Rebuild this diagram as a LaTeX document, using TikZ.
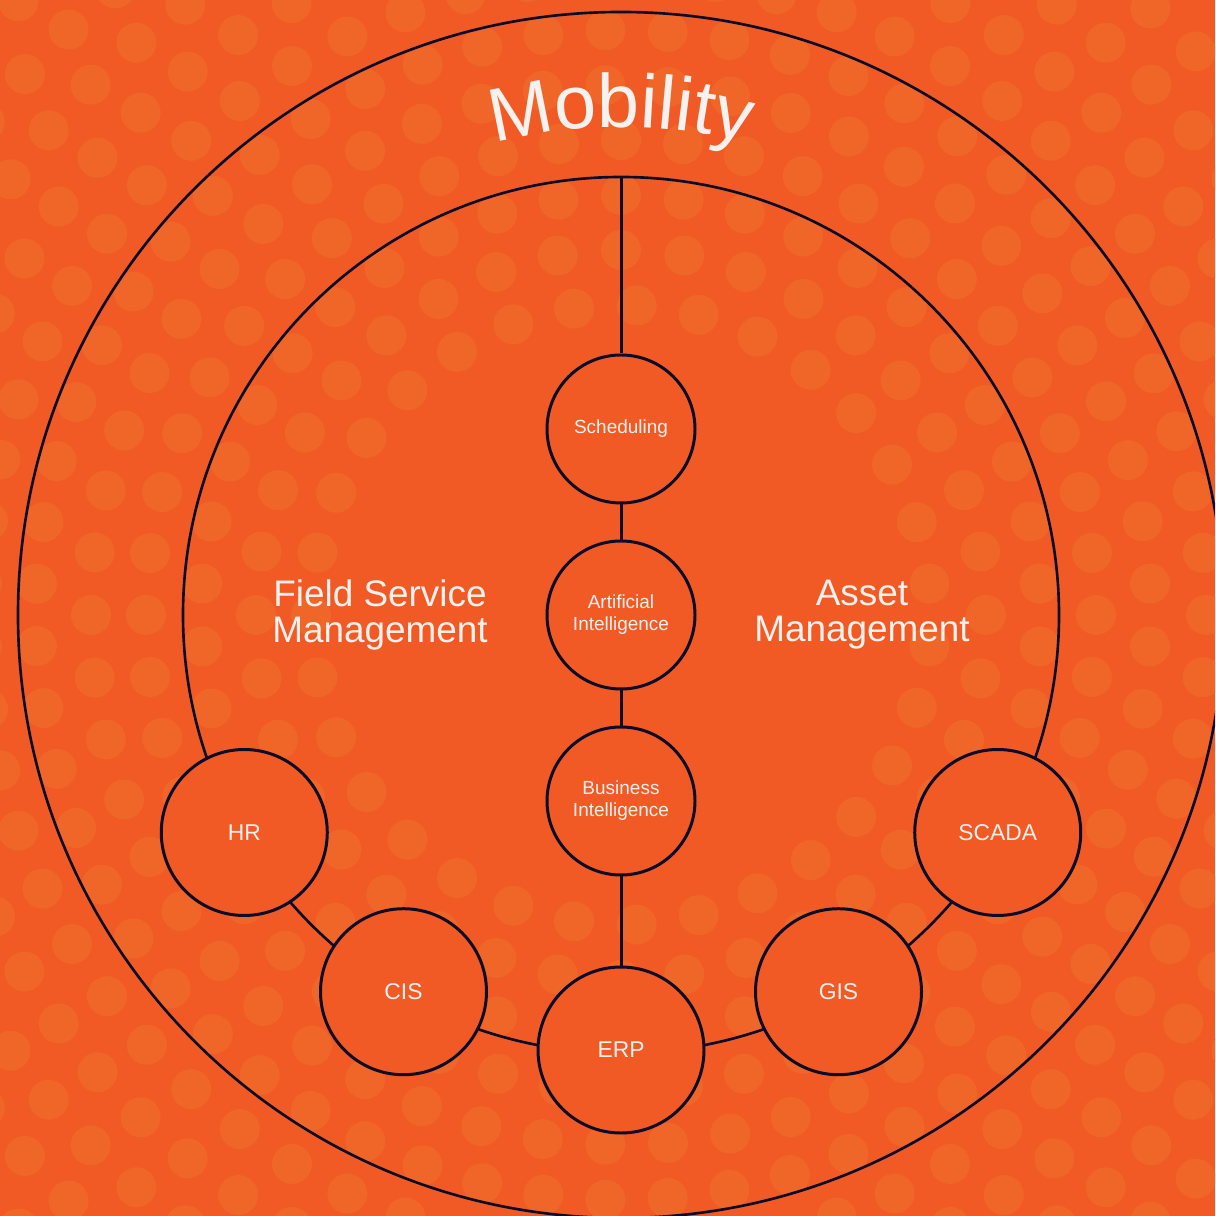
\documentclass[tikz,border=0pt]{standalone}
\usepackage{fontspec}
\setmainfont{Liberation Sans}
\usetikzlibrary{decorations.text}
\definecolor{bgorange}{HTML}{F15A24}
\definecolor{dotorange}{HTML}{F06528}
\definecolor{ink}{HTML}{0B0B2A}
\definecolor{paper}{HTML}{F4F1EE}

\begin{document}
\begin{tikzpicture}[
   ring/.style={ink,line width=0.75pt},
   bub/.style={circle,draw=ink,line width=0.85pt,fill=bgorange,text=paper,
     minimum size=1.66cm,inner sep=0pt,font=\fontsize{6.5}{7.5}\selectfont},
   smallbub/.style={bub,minimum size=1.48cm,align=center,
     font=\fontsize{5.4}{6.3}\selectfont},
   area/.style={text=paper,align=center,font=\fontsize{10.5}{10.3}\selectfont}]
   \useasboundingbox (-6.21,-6.01) rectangle (5.94,6.15);
   \clip (-6.21,-6.01) rectangle (5.94,6.15);
   \fill[bgorange] (-6.21,-6.01) rectangle (5.94,6.15);
   % dotted backdrop
   \foreach \r [count=\k] in {3.1,3.65,...,8.6} {
    \pgfmathtruncatemacro\n{2*pi*\r/0.62}
    \pgfmathsetmacro\da{360/\n}
    \foreach \i in {1,...,\n}
     \fill[dotorange] ({\da*(\i+0.5*mod(\k,2))}:\r) circle(0.2);
   }
   \draw[ring] (0,0) circle(6.03);
   \draw[ring] (0,0) circle(4.38);
   \path[decorate,decoration={text along path,text align=center,text color=paper,
     text={|\fontsize{21.5}{21.5}\selectfont|Mobility}}] (120:4.88) arc (120:60:4.88);
   \coordinate (top) at (90:4.38);
   \node[smallbub] (sched) at (0,1.86) {Scheduling};
   \node[smallbub] (ai) at (0,0) {Artificial\\Intelligence};
   \node[smallbub] (bi) at (0,-1.86) {Business\\Intelligence};
   \foreach \a/\name/\txt in {210/hr/HR,240/cis/CIS,270/erp/ERP,300/gis/GIS,330/scada/SCADA}
    \node[bub] (\name) at (\a:4.35) {\txt};
   \draw[ring,line width=0.85pt] (top) -- (sched) -- (ai) -- (bi) -- (erp);
   \node[area] (fsm) at (-2.41,0.0) {Field Service\\Management};
   \node[area] (am) at (2.41,0.0) {Asset\\Management};
\end{tikzpicture}
\end{document}
